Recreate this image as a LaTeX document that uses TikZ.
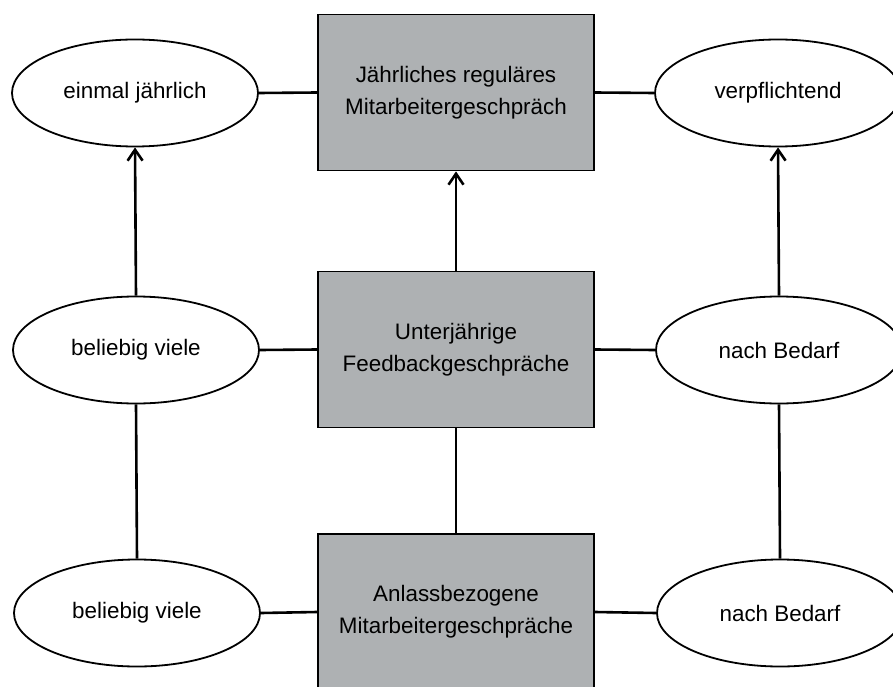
\documentclass[tikz,border=0pt]{standalone}
\usepackage{fontspec}
\setmainfont{Liberation Sans}
\usetikzlibrary{shapes.geometric,arrows.meta}
\definecolor{boxgray}{RGB}{174,177,179}
\begin{document}
\begin{tikzpicture}[x=1pt,y=-1pt,%
  % common options for the gray boxes:
  block/.style = {draw, fill=boxgray, align=center, line width=1.8pt,
              minimum width=276pt, minimum height=156pt, inner sep=0},
  % common options for the ellipses:
  oval/.style = {ellipse, draw, fill=white, align=center, line width=1.8pt,
              minimum width=246pt, minimum height=107pt, inner sep=0},
  font=\fontsize{22.4}{32}\selectfont, line width=2.6pt]
\clip (0,0) rectangle (893,687);
\node[block] (B1) at (456,92.5) {Jährliches reguläres\\Mitarbeitergeschpräch};
\node[block] (B2) at (456,349.5) {Unterjährige\\Feedbackgeschpräche};
\node[block] (B3) at (456,612) {Anlassbezogene\\Mitarbeitergeschpräche};
\node[oval] (L1) at (135,93) {einmal jährlich};
\node[oval] (L2) at (136,350) {beliebig viele};
\node[oval] (L3) at (137,613) {beliebig viele};
\node[oval] (R1) at (778,93) {verpflichtend};
\node[oval] (R2) at (779,350) {nach Bedarf};
\node[oval] (R3) at (780,613) {nach Bedarf};
\draw (L1.east) to (B1.west);
\draw (B1.east) to (R1.west);
\draw (L2.east) to (B2.west);
\draw (B2.east) to (R2.west);
\draw (L3.east) to (B3.west);
\draw (B3.east) to (R3.west);
\draw[-{Straight Barb[length=11pt,width=15pt]}] (B2.north) to (B1.south);
\draw[-{Straight Barb[length=11pt,width=15pt]}] (L2.north) to (L1.south);
\draw[-{Straight Barb[length=11pt,width=15pt]}] (R2.north) to (R1.south);
\draw (B3.north) to (B2.south);
\draw (L3.north) to (L2.south);
\draw (R3.north) to (R2.south);
\end{tikzpicture}
\end{document}
